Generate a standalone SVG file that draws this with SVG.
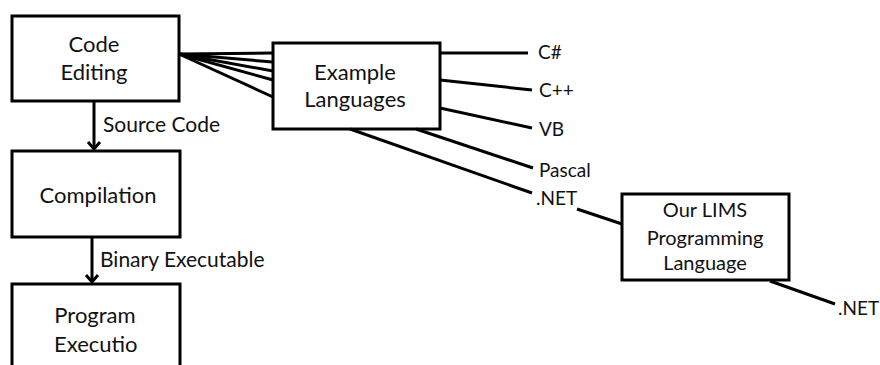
<svg xmlns="http://www.w3.org/2000/svg" width="880" height="365" viewBox="0 0 880 365">
<style>
.box{fill:#fff;stroke:#000;stroke-width:3}
.ln{stroke:#000;stroke-width:3;fill:none}
.ah{stroke:#000;stroke-width:3;fill:none;stroke-linejoin:miter}
text{font-family:Lato,"Open Sans",sans-serif;fill:#111}
.n{font-size:22px;text-anchor:middle}
.s{font-size:20px;text-anchor:middle}
.lb{font-size:21px}
.lg{font-size:19px}
</style>
<g id="code-editing">
<rect class="box" x="12" y="16" width="167" height="85"/>
<text class="n" x="94" y="52">Code</text>
<text class="n" x="94" y="80">Editing</text>
</g>
<g id="compilation">
<rect class="box" x="12" y="151" width="168" height="86"/>
<text class="n" x="98" y="203">Compilation</text>
</g>
<g id="program-execution">
<rect class="box" x="12" y="284" width="168" height="90"/>
<text class="n" x="95" y="323">Program</text>
<text class="n" x="54" y="352" style="text-anchor:start">Executio</text>
</g>
<g id="example-languages">
<rect class="box" x="273" y="43" width="167" height="86"/>
<text class="n" x="355" y="80">Example</text>
<text class="n" x="355" y="107">Languages</text>
</g>
<g id="our-lims">
<rect class="box" x="622" y="194" width="167" height="86"/>
<text class="s" x="705" y="217">Our LIMS</text>
<text class="s" x="705" y="245">Programming</text>
<text class="s" x="705" y="270">Language</text>
</g>
<g id="connectors">
<line class="ln" x1="94" y1="101" x2="94" y2="149"/>
<path class="ah" d="M88,142 L94,149 L100,142"/>
<line class="ln" x1="92" y1="237" x2="92" y2="282"/>
<path class="ah" d="M86,275 L92,282 L98,275"/>
<line class="ln" x1="179" y1="54" x2="273" y2="53"/>
<line class="ln" x1="179" y1="54" x2="273" y2="62"/>
<line class="ln" x1="179" y1="54" x2="273" y2="71"/>
<line class="ln" x1="179" y1="54" x2="273" y2="80"/>
<line class="ln" x1="179" y1="54" x2="273" y2="97"/>
<line class="ln" x1="440" y1="53" x2="528" y2="53"/>
<line class="ln" x1="440" y1="80" x2="532" y2="90"/>
<line class="ln" x1="440" y1="108" x2="532" y2="128"/>
<line class="ln" x1="416" y1="129" x2="533" y2="168"/>
<line class="ln" x1="350" y1="129" x2="532" y2="193"/>
<line class="ln" x1="577" y1="209" x2="622" y2="224"/>
<line class="ln" x1="770" y1="281" x2="835" y2="304"/>
<text class="lb" x="103" y="132">Source Code</text>
<text class="lb" x="100" y="267">Binary Executable</text>
<text class="lg" x="538" y="59">C#</text>
<text class="lg" x="539" y="97">C++</text>
<text class="lg" x="539" y="136">VB</text>
<text class="lg" x="539" y="177">Pascal</text>
<text class="lg" x="536" y="205">.NET</text>
<text class="lg" x="838" y="315">.NET</text>
</g>
</svg>
